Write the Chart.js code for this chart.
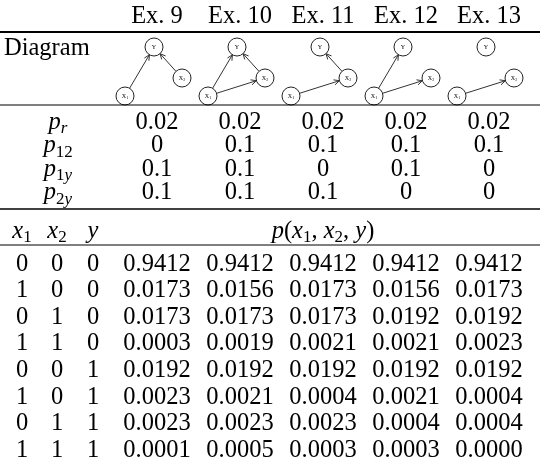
<!DOCTYPE html>
<html>
<head>
<meta charset="utf-8">
<script src="https://cdn.jsdelivr.net/npm/chart.js@4.4.1/dist/chart.umd.min.js"></script>
<style>
  html, body { margin: 0; padding: 0; background: #fff; }
  #wrap { width: 540px; height: 467px; }
</style>
</head>
<body>
<div id="wrap"><canvas id="tbl" width="540" height="467"></canvas></div>
<script>
// Table data
const examples = ["Ex. 9", "Ex. 10", "Ex. 11", "Ex. 12", "Ex. 13"];
const pR  = [0.02, 0.02, 0.02, 0.02, 0.02];
const p12 = [0, 0.1, 0.1, 0.1, 0.1];
const p1y = [0.1, 0.1, 0, 0.1, 0];
const p2y = [0.1, 0.1, 0.1, 0, 0];

const x1s = [0, 1, 0, 1, 0, 1, 0, 1];
const x2s = [0, 0, 1, 1, 0, 0, 1, 1];
const ys  = [0, 0, 0, 0, 1, 1, 1, 1];

const ex9  = [0.9412, 0.0173, 0.0173, 0.0003, 0.0192, 0.0023, 0.0023, 0.0001];
const ex10 = [0.9412, 0.0156, 0.0173, 0.0019, 0.0192, 0.0021, 0.0023, 0.0005];
const ex11 = [0.9412, 0.0173, 0.0173, 0.0021, 0.0192, 0.0004, 0.0023, 0.0003];
const ex12 = [0.9412, 0.0156, 0.0192, 0.0021, 0.0192, 0.0021, 0.0004, 0.0003];
const ex13 = [0.9412, 0.0173, 0.0192, 0.0023, 0.0192, 0.0004, 0.0004, 0.0000];
const joint = [ex9, ex10, ex11, ex12, ex13];

// Layout (in canvas units, fed through the chart scales)
const colX = [157, 240, 323, 406, 489];
const stateX = [22, 57, 93];
const headY = 14;
const paramY = [120, 143.5, 167, 190.5];
const jointHeadY = 229;
const rowY = i => 262 + 26.6 * i;
const rules = [{ y: 32, w: 2 }, { y: 105, w: 1.2 }, { y: 209, w: 1.4 }, { y: 245, w: 1.2 }];
const NODE_R = 9;
const nodeOff = { Y: [-3, 47], X2: [25, 78], X1: [-32, 96] };

const SERIF = "\"Liberation Serif\", \"DejaVu Serif\", serif";
const FS = 24.5, SUB = 17;

function nodePos(i, key) {
  return { x: colX[i] + nodeOff[key][0], y: nodeOff[key][1] };
}

// one dataset per node type
function nodeData(key) {
  return examples.map((_, i) => nodePos(i, key));
}

function fontOf(p) {
  return (p.it ? "italic " : "") + (p.sub ? SUB : FS) + "px " + SERIF;
}

// draw a mix of roman/italic/subscript pieces
function drawMath(ctx, sx, sy, parts, x, y, align) {
  let total = 0;
  const widths = parts.map(p => {
    ctx.font = fontOf(p);
    const w = ctx.measureText(p.t).width;
    total += w;
    return w;
  });
  let cx = sx.getPixelForValue(x);
  if (align === "center") cx -= total / 2;
  const base = sy.getPixelForValue(y) + 8.5;
  parts.forEach((p, k) => {
    ctx.font = fontOf(p);
    ctx.fillText(p.t, cx, base + (p.sub ? 4.5 : 0));
    cx += widths[k];
  });
}

const tablePlugin = {
  id: "tablePlugin",
  beforeDatasetsDraw(chart) {
    const ctx = chart.ctx, sx = chart.scales.x, sy = chart.scales.y;
    ctx.save();
    ctx.strokeStyle = "#333";
    ctx.lineWidth = 1;
    // edges follow the parameters: p12 -> X1->X2, p1y -> X1->Y, p2y -> X2->Y
    examples.forEach((_, i) => {
      const edges = [];
      if (p12[i] > 0) edges.push(["X1", "X2"]);
      if (p1y[i] > 0) edges.push(["X1", "Y"]);
      if (p2y[i] > 0) edges.push(["X2", "Y"]);
      edges.forEach(([a, b]) => {
        const A = nodePos(i, a), B = nodePos(i, b);
        const ax = sx.getPixelForValue(A.x), ay = sy.getPixelForValue(A.y);
        const bx = sx.getPixelForValue(B.x), by = sy.getPixelForValue(B.y);
        const len = Math.hypot(bx - ax, by - ay);
        const ux = (bx - ax) / len, uy = (by - ay) / len;
        const e0x = bx - ux * NODE_R, e0y = by - uy * NODE_R;
        ctx.beginPath();
        ctx.moveTo(ax + ux * NODE_R, ay + uy * NODE_R);
        ctx.lineTo(e0x, e0y);
        const ang = Math.atan2(uy, ux);
        [0.45, -0.45].forEach(d => {
          ctx.moveTo(e0x, e0y);
          ctx.lineTo(e0x - 6 * Math.cos(ang + d), e0y - 6 * Math.sin(ang + d));
        });
        ctx.stroke();
      });
    });
    ctx.restore();
  },
  afterDatasetsDraw(chart) {
    const ctx = chart.ctx, sx = chart.scales.x, sy = chart.scales.y;
    ctx.save();
    ctx.fillStyle = "#000";
    ctx.textBaseline = "alphabetic";

    // node labels
    examples.forEach((_, i) => {
      [["Y", "Y", ""], ["X1", "X", "1"], ["X2", "X", "2"]].forEach(([k, t, s]) => {
        const P = nodePos(i, k);
        const px = sx.getPixelForValue(P.x), py = sy.getPixelForValue(P.y);
        ctx.font = "6px " + SERIF;
        const w = ctx.measureText(t).width;
        ctx.font = "4px " + SERIF;
        const ws = s ? ctx.measureText(s).width : 0;
        const left = px - (w + ws) / 2;
        ctx.font = "6px " + SERIF;
        ctx.fillText(t, left, py + 2);
        if (s) { ctx.font = "4px " + SERIF; ctx.fillText(s, left + w, py + 3); }
      });
    });

    // rules
    ctx.strokeStyle = "#000";
    rules.forEach(r => {
      ctx.lineWidth = r.w;
      ctx.beginPath();
      ctx.moveTo(sx.getPixelForValue(0), sy.getPixelForValue(r.y));
      ctx.lineTo(sx.getPixelForValue(540), sy.getPixelForValue(r.y));
      ctx.stroke();
    });

    // column headings
    examples.forEach((e, i) => drawMath(ctx, sx, sy, [{ t: e }], colX[i], headY, "center"));
    drawMath(ctx, sx, sy, [{ t: "Diagram" }], 4, 46, "left");

    // parameter rows
    const paramRows = [
      { label: [{ t: "p", it: true }, { t: "r", it: true, sub: true }], vals: pR },
      { label: [{ t: "p", it: true }, { t: "12", sub: true }], vals: p12 },
      { label: [{ t: "p", it: true }, { t: "1", sub: true }, { t: "y", it: true, sub: true }], vals: p1y },
      { label: [{ t: "p", it: true }, { t: "2", sub: true }, { t: "y", it: true, sub: true }], vals: p2y }
    ];
    paramRows.forEach((r, k) => {
      drawMath(ctx, sx, sy, r.label, 58, paramY[k], "center");
      r.vals.forEach((v, i) => drawMath(ctx, sx, sy, [{ t: String(v) }], colX[i], paramY[k], "center"));
    });

    // joint header
    drawMath(ctx, sx, sy, [{ t: "x", it: true }, { t: "1", sub: true }], stateX[0], jointHeadY, "center");
    drawMath(ctx, sx, sy, [{ t: "x", it: true }, { t: "2", sub: true }], stateX[1], jointHeadY, "center");
    drawMath(ctx, sx, sy, [{ t: "y", it: true }], stateX[2], jointHeadY, "center");
    drawMath(ctx, sx, sy, [
      { t: "p", it: true }, { t: "(" }, { t: "x", it: true }, { t: "1", sub: true }, { t: ", " },
      { t: "x", it: true }, { t: "2", sub: true }, { t: ", " }, { t: "y", it: true }, { t: ")" }
    ], colX[2], jointHeadY, "center");

    // joint rows
    x1s.forEach((_, r) => {
      const yy = rowY(r);
      [x1s[r], x2s[r], ys[r]].forEach((v, c) => drawMath(ctx, sx, sy, [{ t: String(v) }], stateX[c], yy, "center"));
      joint.forEach((col, i) => drawMath(ctx, sx, sy, [{ t: col[r].toFixed(4) }], colX[i], yy, "center"));
    });
    ctx.restore();
  }
};

const nodeStyle = {
  pointRadius: NODE_R,
  pointHoverRadius: NODE_R,
  pointBackgroundColor: "#fff",
  pointBorderColor: "#222",
  pointBorderWidth: 1,
  showLine: false,
  clip: false
};

function build() {
  new Chart(document.getElementById("tbl"), {
    type: "scatter",
    data: {
      datasets: [
        Object.assign({ label: "Y", data: nodeData("Y") }, nodeStyle),
        Object.assign({ label: "X1", data: nodeData("X1") }, nodeStyle),
        Object.assign({ label: "X2", data: nodeData("X2") }, nodeStyle)
      ]
    },
    options: {
      responsive: false,
      animation: false,
      layout: { padding: 0, autoPadding: false },
      plugins: { legend: { display: false }, tooltip: { enabled: false } },
      scales: {
        x: { type: "linear", min: 0, max: 540, display: false },
        y: { type: "linear", min: 0, max: 467, reverse: true, display: false }
      }
    },
    plugins: [tablePlugin]
  });
}

Promise.all([
  document.fonts.load("24px \"Liberation Serif\""),
  document.fonts.load("italic 24px \"Liberation Serif\"")
]).then(build, build);
</script>
</body>
</html>
